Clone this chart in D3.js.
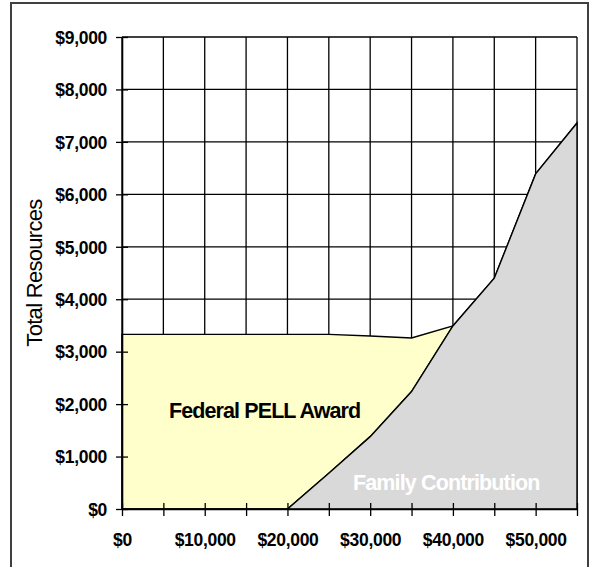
<!DOCTYPE html>
<html>
<head>
<meta charset="utf-8">
<script src="https://cdn.jsdelivr.net/npm/d3@7"></script>
<style>
  html, body { margin: 0; padding: 0; background: #fff; }
  svg { display: block; }
  text { font-family: "Liberation Sans", Arial, sans-serif; }
</style>
</head>
<body>
<svg id="chart" width="589" height="567"></svg>
<script>
// ---- data ----
const incomes = [0, 5000, 10000, 15000, 20000, 25000, 30000, 35000, 40000, 45000, 50000, 55000];
const familyContribution = [0, 0, 0, 0, 0, 680, 1380, 2240, 3490, 4400, 6390, 7360];
const pellAward = [3330, 3330, 3330, 3330, 3330, 2650, 1920, 1020, 0, 0, 0, 0];
const yTicks = [0, 1000, 2000, 3000, 4000, 5000, 6000, 7000, 8000, 9000];
const xLabelValues = [0, 10000, 20000, 30000, 40000, 50000];
const seriesNames = ["Family Contribution", "Federal PELL Award"];
const yTitle = "Total Resources";

(function () {
// ---- layout ----
const plotL = 122, plotR = 577, plotT = 37, plotB = 509;
const svg = d3.select("#chart");

const x = d3.scaleLinear().domain([0, 55000]).range([plotL, plotR]);
const y = d3.scaleLinear().domain([0, 9000]).range([plotB, plotT]);
const money = v => "$" + d3.format(",")(v);

// outer frame
svg.append("rect")
  .attr("x", 11).attr("y", 3).attr("width", 577).attr("height", 575)
  .attr("fill", "#fff").attr("stroke", "#404040").attr("stroke-width", 2);

// gridlines
const grid = svg.append("g").attr("stroke", "#000").attr("stroke-width", 1.3);
grid.selectAll("line.h").data(yTicks).join("line").attr("class", "h")
  .attr("x1", plotL).attr("x2", plotR)
  .attr("y1", d => y(d)).attr("y2", d => y(d));
grid.selectAll("line.v").data(incomes).join("line").attr("class", "v")
  .attr("x1", d => x(d)).attr("x2", d => x(d))
  .attr("y1", plotT).attr("y2", plotB);

// stacked areas
const rows = incomes.map((inc, i) => ({ inc, fam: familyContribution[i], pell: pellAward[i] }));
const famArea = d3.area()
  .x(d => x(d.inc)).y0(() => y(0)).y1(d => y(d.fam));
const pellArea = d3.area()
  .x(d => x(d.inc)).y0(d => y(d.fam)).y1(d => y(d.fam + d.pell));

svg.append("path").datum(rows)
  .attr("d", pellArea)
  .attr("fill", "#FFFFCC").attr("stroke", "#000").attr("stroke-width", 1.4)
  .attr("stroke-linejoin", "miter");
svg.append("path").datum(rows)
  .attr("d", famArea)
  .attr("fill", "#D9D9D9").attr("stroke", "#000").attr("stroke-width", 1.4)
  .attr("stroke-linejoin", "miter");

// axes
const yAxis = d3.axisLeft(y).tickValues(yTicks).tickFormat(money).tickSizeOuter(0);
const gy = svg.append("g").attr("transform", `translate(${plotL},0)`).call(yAxis);
gy.select(".domain").attr("stroke", "#000").attr("stroke-width", 1.6);
gy.selectAll(".tick line").attr("x1", -6).attr("x2", 6).attr("stroke", "#000").attr("stroke-width", 1.3);
gy.selectAll(".tick text")
  .attr("x", -15).attr("dy", "0.36em")
  .attr("font-size", 17.5).attr("font-weight", "bold").attr("fill", "#000")
  .attr("letter-spacing", -0.3)
  .attr("font-family", "'Liberation Sans', Arial, sans-serif");

const xAxis = d3.axisBottom(x).tickValues(incomes)
  .tickFormat(d => xLabelValues.includes(d) ? money(d) : "").tickSizeOuter(0);
const gx = svg.append("g").attr("transform", `translate(0,${plotB})`).call(xAxis);
gx.select(".domain").attr("stroke", "#000").attr("stroke-width", 1.6);
gx.selectAll(".tick line").attr("y1", -6).attr("y2", 7).attr("stroke", "#000").attr("stroke-width", 1.3);
gx.selectAll(".tick text")
  .attr("y", 37).attr("dy", 0)
  .attr("font-size", 17.5).attr("font-weight", "bold").attr("fill", "#000")
  .attr("letter-spacing", -0.3)
  .attr("font-family", "'Liberation Sans', Arial, sans-serif");

// y axis title
svg.append("text")
  .attr("transform", `translate(41.5,${(plotT + plotB) / 2}) rotate(-90)`)
  .attr("text-anchor", "middle")
  .attr("font-size", 22).attr("fill", "#000")
  .attr("letter-spacing", -0.7)
  .text(yTitle);

// series labels
svg.append("text")
  .attr("x", 169).attr("y", 418)
  .attr("font-size", 21.5).attr("font-weight", "bold").attr("fill", "#000")
  .attr("letter-spacing", -0.9)
  .text(seriesNames[1]);
svg.append("text")
  .attr("x", 353).attr("y", 490)
  .attr("font-size", 21.5).attr("font-weight", "bold").attr("fill", "#fff")
  .attr("letter-spacing", -0.87)
  .text(seriesNames[0]);
})();
</script>
</body>
</html>
